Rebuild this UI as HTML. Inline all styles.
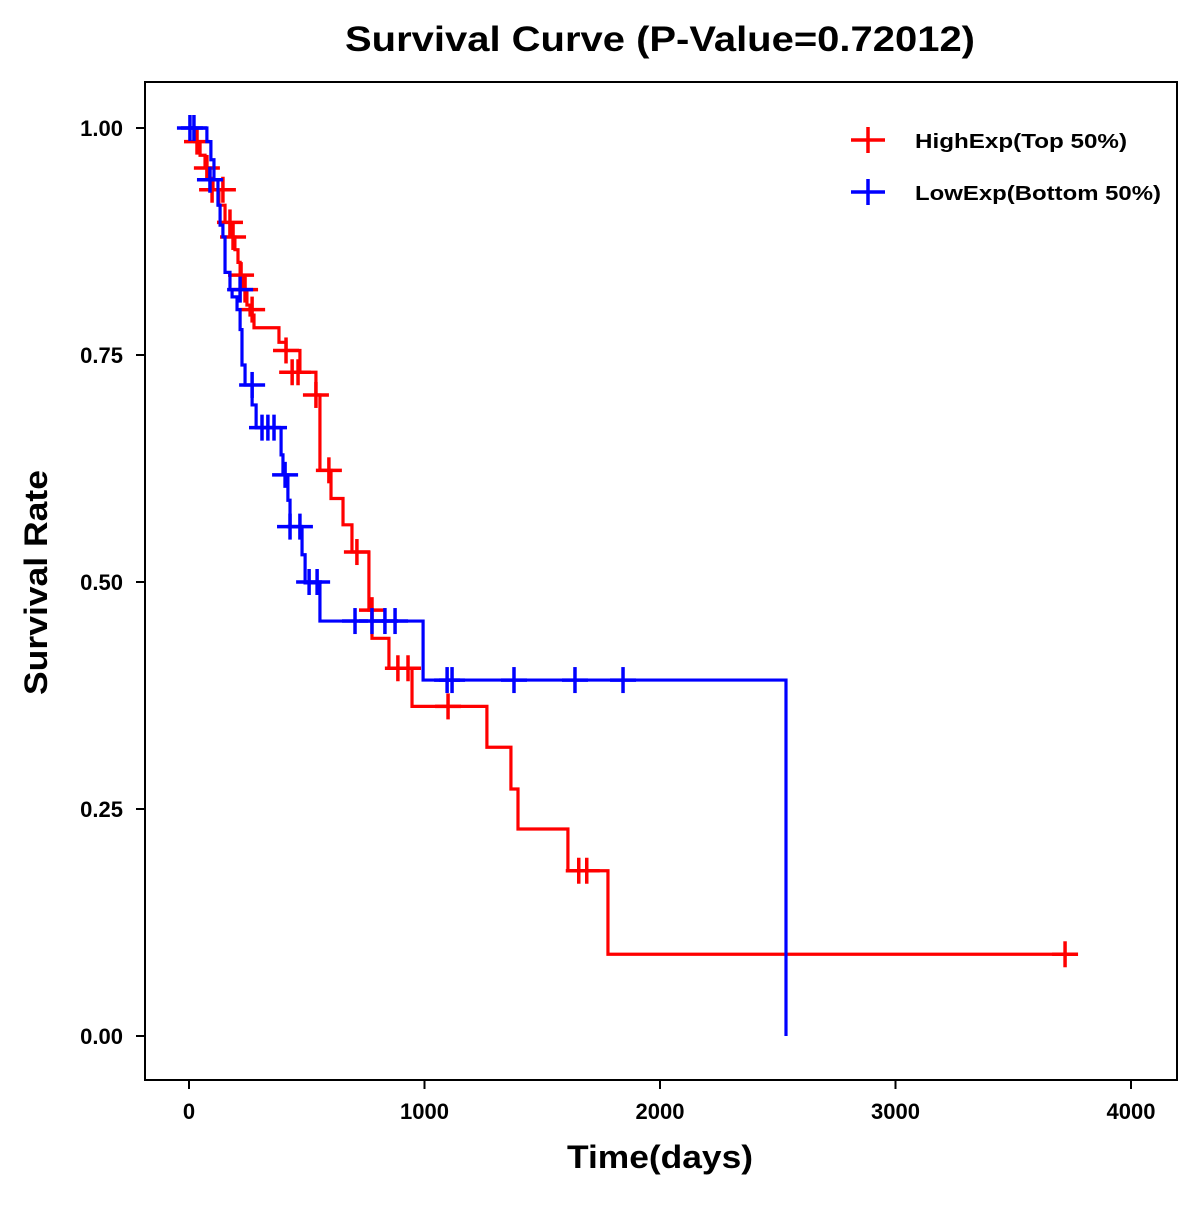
<!DOCTYPE html>
<html><head><meta charset="utf-8"><style>
body{margin:0;background:#fff}
svg{font-family:"Liberation Sans",Arial,sans-serif;font-weight:bold}
</style></head><body>
<svg id="chart" width="1200" height="1200" viewBox="0 0 1200 1200" xmlns="http://www.w3.org/2000/svg">
<rect width="1200" height="1200" fill="#fff"/>
<text x="345" y="51" font-size="35" textLength="630" lengthAdjust="spacingAndGlyphs">Survival Curve (P-Value=0.72012)</text>
<rect x="145" y="82" width="1032" height="998" fill="none" stroke="#000" stroke-width="2"/>
<g id="axes"></g>
<g id="series"></g>
<text x="567" y="1168" font-size="32" textLength="186" lengthAdjust="spacingAndGlyphs">Time(days)</text>
<text transform="translate(47,695) rotate(-90)" font-size="32" textLength="225" lengthAdjust="spacingAndGlyphs">Survival Rate</text>
<g>
<g>
<line x1="851" y1="140" x2="885" y2="140" stroke="#f00" stroke-width="3.5"/><line x1="868" y1="127" x2="868" y2="153" stroke="#f00" stroke-width="3.5"/>
<text x="915" y="148" font-size="20" textLength="212" lengthAdjust="spacingAndGlyphs">HighExp(Top 50%)</text></g>
<g>
<line x1="851" y1="192" x2="885" y2="192" stroke="#00f" stroke-width="3.5"/><line x1="868" y1="179" x2="868" y2="205" stroke="#00f" stroke-width="3.5"/>
<text x="915" y="200" font-size="20" textLength="246" lengthAdjust="spacingAndGlyphs">LowExp(Bottom 50%)</text></g>
</g>
</svg>
<script>
const xTicks=[0,1000,2000,3000,4000];
const yTicks=[0,0.25,0.5,0.75,1];
const yTickLabels=["0.00","0.25","0.50","0.75","1.00"];
const redT=[25,47,68,89,102,127,153,174,195,208,217,234,246,259,276,382,412,471,539,556,603,654,692,764,777,849,947,1265,1367,1397,1609,1779];
const redS=[0.985,0.970,0.956,0.943,0.932,0.915,0.896,0.880,0.866,0.852,0.838,0.822,0.805,0.794,0.780,0.764,0.755,0.731,0.706,0.623,0.592,0.563,0.533,0.469,0.438,0.405,0.363,0.318,0.272,0.228,0.182,0.090];
const redEnd=3741;
const redCT=[34,76,98,144,174,187,221,238,268,412,438,463,539,594,713,777,887,930,1100,1655,1689,3720];
const redCS=[0.985,0.956,0.932,0.932,0.896,0.880,0.838,0.822,0.800,0.755,0.731,0.731,0.706,0.623,0.533,0.469,0.405,0.405,0.363,0.182,0.182,0.090];
const blueT=[76,93,106,123,132,144,153,174,183,204,217,225,238,268,285,391,399,420,429,480,493,556,994,2535];
const blueS=[0.985,0.965,0.943,0.915,0.893,0.880,0.841,0.822,0.814,0.800,0.778,0.739,0.717,0.695,0.670,0.640,0.618,0.590,0.561,0.530,0.499,0.457,0.392,0];
const blueEnd=2535;
const blueCT=[4,21,89,217,268,310,335,361,408,429,471,510,544,705,777,832,875,1096,1117,1380,1639,1843];
const blueCS=[1,1,0.943,0.822,0.717,0.670,0.670,0.670,0.618,0.561,0.561,0.5,0.5,0.457,0.457,0.457,0.457,0.392,0.392,0.392,0.392,0.392];
const NS="http://www.w3.org/2000/svg";
const X=t=>189+t*0.2355;
const Y=s=>1036-s*908;
function mk(tag,attrs,parent){const e=document.createElementNS(NS,tag);for(const k in attrs)e.setAttribute(k,attrs[k]);parent.appendChild(e);return e;}
const ax=document.getElementById('axes');
xTicks.forEach(t=>{
  const l=mk('line',{x1:X(t),x2:X(t),y1:1080,y2:1089,stroke:'#000','stroke-width':2},ax);
  
  
  const tx=mk('text',{x:X(t),y:1119,'text-anchor':'middle','font-size':22},ax);tx.textContent=t;
  
  
});
yTicks.forEach((v,i)=>{
  const l=mk('line',{x1:136,x2:145,y1:Y(v),y2:Y(v),stroke:'#000','stroke-width':2},ax);
  
  
  const tx=mk('text',{x:123,y:Y(v)+8,'text-anchor':'end','font-size':22},ax);tx.textContent=yTickLabels[i];
  
  
});
const sg=document.getElementById('series');
function drawSeries(T,S,end,CT,CS,col,name){
  let d='M'+X(0)+','+Y(1);
  T.forEach((t,i)=>{d+=' H'+X(t)+' V'+Y(S[i]);});
  if(end>T[T.length-1])d+=' H'+X(end);
  const p=mk('path',{d:d,fill:'none',stroke:col,'stroke-width':3.2},sg);
  
  
  CT.forEach((t,i)=>{
    const g=mk('g',{},sg);
    
    
    mk('line',{x1:X(t)-13,x2:X(t)+13,y1:Y(CS[i]),y2:Y(CS[i]),stroke:col,'stroke-width':3.5},g);
    mk('line',{x1:X(t),x2:X(t),y1:Y(CS[i])-13,y2:Y(CS[i])+13,stroke:col,'stroke-width':3.5},g);
  });
}
drawSeries(redT,redS,redEnd,redCT,redCS,'#f00','high-exp');
drawSeries(blueT,blueS,blueEnd,blueCT,blueCS,'#00f','low-exp');
</script>
</body></html>
